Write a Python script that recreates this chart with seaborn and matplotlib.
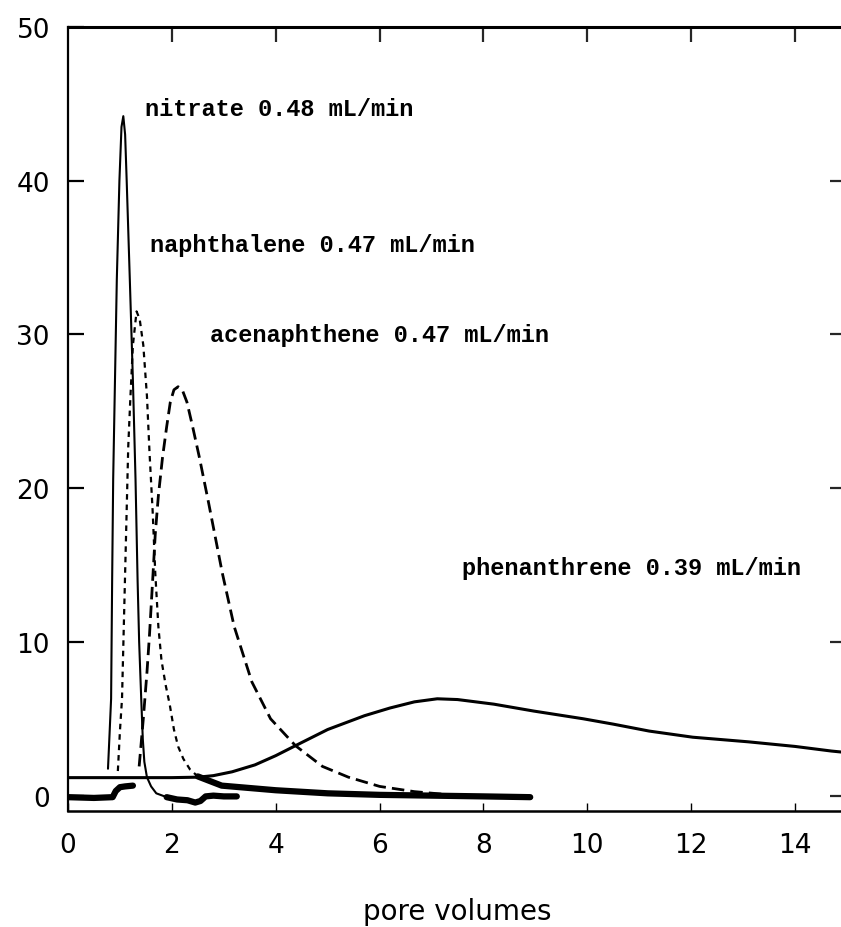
import numpy as np
import pandas as pd
import matplotlib
matplotlib.use("Agg")
import matplotlib.pyplot as plt
import seaborn as sns

# ---- data ----
nitrate_x = [0.77, 0.80, 0.83, 0.85, 0.87, 0.94, 0.99, 1.03, 1.065, 1.10, 1.13, 1.19, 1.25, 1.30,
             1.34, 1.37, 1.41, 1.44, 1.47, 1.52, 1.60, 1.70, 1.90]
nitrate_y = [1.75, 4.0, 6.3, 14.0, 20.6, 33.6, 40.0, 43.5, 44.2, 43.0, 40.0, 33.6, 27.0, 20.6,
             14.0, 10.0, 6.3, 3.7, 2.2, 1.2, 0.6, 0.15, -0.1]

naph_x = [0.96, 1.00, 1.04, 1.10, 1.16, 1.20, 1.25, 1.32, 1.38, 1.45, 1.52, 1.57, 1.63, 1.68,
          1.74, 1.80, 1.88, 1.96, 2.04, 2.12, 2.22, 2.35, 2.50]
naph_y = [1.6, 4.2, 6.3, 14.5, 22.7, 25.8, 29.3, 31.5, 31.0, 29.3, 26.0, 22.3, 18.5, 14.5,
          11.0, 8.8, 7.2, 5.9, 4.3, 3.2, 2.4, 1.7, 1.25]

acen_x = [1.37, 1.45, 1.52, 1.57, 1.63, 1.68, 1.74, 1.82, 1.90, 1.97, 2.04, 2.12, 2.20, 2.29,
          2.40, 2.53, 2.71, 2.97, 3.20, 3.54, 3.90, 4.38, 4.90, 5.40, 6.00, 6.67, 7.20]
acen_y = [1.9, 5.0, 8.0, 10.5, 14.0, 17.0, 19.5, 22.0, 24.0, 25.6, 26.4, 26.6, 26.4, 25.6,
          24.0, 22.0, 19.0, 14.5, 11.0, 7.4, 5.0, 3.25, 1.9, 1.2, 0.6, 0.26, 0.1]

phen_x = [0.0, 1.0, 2.0, 2.5, 2.8, 3.16, 3.6, 4.0, 4.38, 5.0, 5.71, 6.2, 6.67, 7.11, 7.5, 8.2,
          8.97, 9.92, 10.5, 11.19, 12.03, 13.1, 14.0, 14.7, 15.0]
phen_y = [1.17, 1.17, 1.17, 1.2, 1.3, 1.55, 2.0, 2.6, 3.25, 4.3, 5.2, 5.7, 6.1, 6.3, 6.25, 5.95,
          5.5, 5.0, 4.65, 4.2, 3.8, 3.5, 3.2, 2.9, 2.8]

# thick noisy baselines
base_left_x = [0.0, 0.5, 0.86, 0.92, 1.0, 1.1, 1.25]
base_left_y = [-0.1, -0.15, -0.1, 0.3, 0.55, 0.6, 0.65]
nitrate_tail_x = [1.9, 2.1, 2.3, 2.45, 2.55, 2.65, 2.8, 3.0, 3.25]
nitrate_tail_y = [-0.1, -0.25, -0.3, -0.45, -0.35, -0.05, 0.0, -0.05, -0.05]
naph_tail_x = [2.5, 2.96, 3.48, 4.0, 5.0, 6.0, 7.0, 8.0, 8.9]
naph_tail_y = [1.25, 0.65, 0.5, 0.35, 0.15, 0.05, 0.0, -0.05, -0.1]

labels = ["nitrate 0.48 mL/min", "naphthalene 0.47 mL/min",
          "acenaphthene 0.47 mL/min", "phenanthrene 0.39 mL/min"]
label_x = [1.48, 1.58, 2.73, 7.59]
label_y = [44.3, 35.4, 29.6, 14.4]

x_ticks = [0, 2, 4, 6, 8, 10, 12, 14]
y_ticks = [0, 10, 20, 30, 40, 50]
x_label = "pore volumes"

# ---- plotting ----
sns.set_style("ticks")
plt.rcParams['font.family'] = ['DejaVu Sans']

fig = plt.figure(figsize=(8.41, 9.28), dpi=100)
ax = fig.add_axes([68 / 841, 116 / 928, 779 / 841, 784 / 928])

def draw(x, y, lw, ls):
    df = pd.DataFrame({"x": x, "y": y})
    sns.lineplot(data=df, x="x", y="y", ax=ax, sort=False, estimator=None,
                 color="black", lw=lw, linestyle=ls)

draw(phen_x, phen_y, 2.2, "-")
draw(nitrate_x, nitrate_y, 1.5, "-")
draw(naph_x, naph_y, 1.6, (0, (2.5, 2.2)))
draw(acen_x, acen_y, 2.0, (0, (4.5, 2.2)))
draw(base_left_x, base_left_y, 4.5, "-")
draw(nitrate_tail_x, nitrate_tail_y, 4.5, "-")
draw(naph_tail_x, naph_tail_y, 4.5, "-")

for t, lx, ly in zip(labels, label_x, label_y):
    ax.text(lx, ly, t, family="Liberation Mono", fontweight="bold", fontsize=17,
            ha="left", va="baseline", color="black")

ax.set_xlim(0, 15)
ax.set_ylim(-1, 50)
ax.set_xticks(x_ticks)
ax.set_yticks(y_ticks)
ax.set_xticklabels([str(v) for v in x_ticks])
ax.set_yticklabels([str(v) for v in y_ticks])
ax.set_xlabel(x_label, fontsize=20, color="black")
ax.set_ylabel("")
ax.xaxis.set_label_coords(0.5, -0.138)
ax.xaxis.label.set_va("baseline")

for s in ["left", "bottom", "top"]:
    ax.spines[s].set_visible(True)
    ax.spines[s].set_color("black")
ax.spines["left"].set_linewidth(1.6)
ax.spines["bottom"].set_linewidth(1.8)
ax.spines["top"].set_linewidth(2.2)
ax.spines["right"].set_visible(False)

ax.tick_params(axis="y", direction="in", length=11.5, width=1.6, labelsize=19, pad=13,
               left=True, right=False, colors="black")
ax.tick_params(axis="x", direction="in", length=6, width=1.0, labelsize=19, pad=15,
               bottom=True, top=False, colors="black")

top = ax.secondary_xaxis("top")
top.set_xticks(x_ticks[1:])
top.tick_params(direction="in", length=11, width=1.6, labeltop=False)
top.spines["top"].set_visible(False)

right = ax.secondary_yaxis("right")
right.set_yticks(y_ticks[:-1])
right.tick_params(direction="in", length=12, width=1.6, labelright=False)
right.spines["right"].set_visible(False)

fig.savefig("out.png", dpi=100, facecolor="white")
